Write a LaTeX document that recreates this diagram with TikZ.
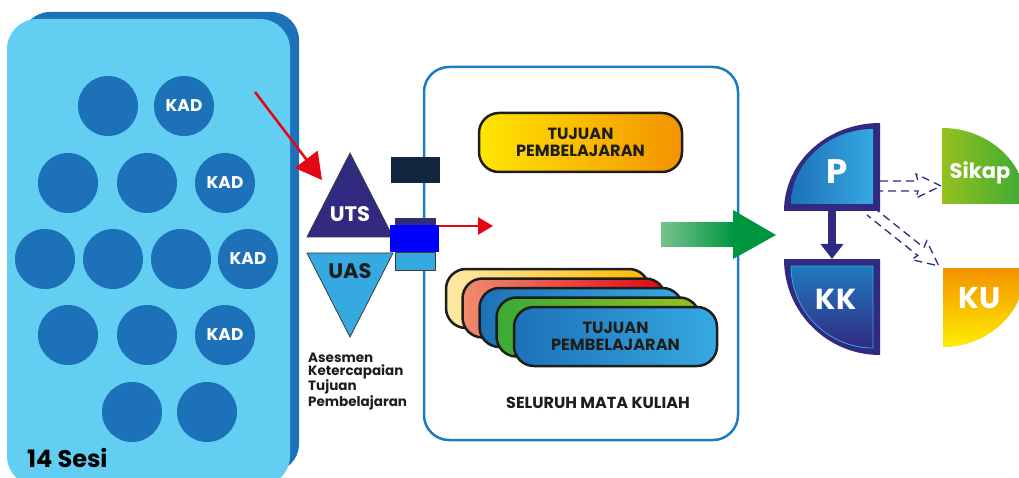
\documentclass[tikz,border=0pt]{standalone}
\usepackage{fontspec}
\setmainfont{Poppins}
\usetikzlibrary{arrows.meta,calc}

\definecolor{sky}{HTML}{61CEF2}
\definecolor{kadblue}{HTML}{1D71B8}
\definecolor{indigo}{HTML}{302A80}
\definecolor{cyanb}{HTML}{36A9E1}
\definecolor{navy}{HTML}{12263F}
\definecolor{pureblue}{HTML}{0000FF}
\definecolor{redar}{HTML}{E30613}
\definecolor{edgegray}{HTML}{3C3C3B}
\definecolor{ink}{HTML}{1D1D1B}
\definecolor{panelblue}{HTML}{1D7BC0}
\definecolor{yel}{HTML}{FFE600}
\definecolor{ora}{HTML}{F39200}
\definecolor{paleyel}{HTML}{FEE9A6}
\definecolor{gold}{HTML}{FBBA00}
\definecolor{salmon}{HTML}{F08C6E}
\definecolor{grn}{HTML}{3AAA35}
\definecolor{lime}{HTML}{95C11F}
\definecolor{arrowgreen}{HTML}{009640}
\definecolor{lightgreen}{HTML}{78C28F}
\definecolor{kuyel}{HTML}{FFED00}

\tikzset{
  sesi/.style={circle, fill=kadblue, minimum size=60pt, inner sep=0pt,
    text=white, font=\fontsize{17}{17}\selectfont\bfseries},
  card/.style={draw=ink, line width=2.5pt, rounded corners=20pt,
    minimum width=203pt, minimum height=59pt, inner sep=0pt, align=center,
    font=\fontsize{16.2}{16.5}\selectfont\bfseries, text=ink},
  smallbox/.style={draw=edgegray, line width=0.8pt},
  redarrow/.style={draw=redar, line width=2.5pt},
  dasharrow/.style={draw=indigo, line width=1.3pt, dash pattern=on 8pt off 5pt},
  whitelabel/.style={text=white, inner sep=0pt, font=\bfseries},
}

\begin{document}
\begin{tikzpicture}[x=1pt,y=-1pt]
\useasboundingbox (0,0) rectangle (1019,478);

% ---- session panel ----
\fill[kadblue, rounded corners=28pt] (22,12) rectangle (299,472);
\fill[sky, rounded corners=30pt] (7,19) rectangle (290,486);

\node[sesi] (s1) at (108,106) {};
\node[sesi] (s2) at (184,106) {KAD};
\node[sesi] (s3) at (68,183) {};
\node[sesi] (s4) at (147,183) {};
\node[sesi] (s5) at (225,183) {KAD};
\node[sesi] (s6) at (45,259) {};
\node[sesi] (s7) at (113,259) {};
\node[sesi] (s8) at (181,259) {};
\node[sesi] (s9) at (248,259) {KAD};
\node[sesi] (s10) at (68,335) {};
\node[sesi] (s11) at (147,335) {};
\node[sesi] (s12) at (225,335) {KAD};
\node[sesi] (s13) at (132,412) {};
\node[sesi] (s14) at (207,412) {};
\node[anchor=base west, inner sep=0pt, text=black,
  font=\fontsize{24}{24}\selectfont\bfseries] (sesi) at (27,467) {14 Sesi};

% ---- course panel ----
\draw[panelblue, line width=2.5pt, rounded corners=25pt] (424,67) rectangle (738,440);

% ---- assessment triangles ----
\draw[smallbox, fill=indigo] (307,237) -- (350,153) -- (393,237) -- cycle;
\draw[smallbox, fill=cyanb] (307,253) -- (393,253) -- (350,337) -- cycle;
\node[whitelabel, font=\fontsize{21}{21}\selectfont\bfseries] (uts) at (350,214) {UTS};
\node[whitelabel, text=ink, font=\fontsize{21}{21}\selectfont\bfseries] (uas) at (350,271) {UAS};
\node[anchor=north west, align=left, inner sep=0pt, text=ink,
  font=\fontsize{13.5}{12.8}\selectfont\bfseries] (ases) at (308,353)
  {Asesmen\\Ketercapaian\\Tujuan\\Pembelajaran};

% ---- small blocks ----
\fill[navy] (391,157) rectangle (440,183);
\draw[smallbox, fill=indigo] (395,218) rectangle (435,232);
\draw[smallbox, fill=cyanb] (395,252) rectangle (435,270);
\fill[pureblue] (390,225) rectangle (439,252);
\coordinate (bb) at (439,226);

% ---- red arrows ----
\coordinate (r1s) at (255,92);
\coordinate (r1e) at (322,180);
\draw[redarrow, -{Triangle[length=26pt,width=28pt]}] (r1s) -- (r1e);
\coordinate (r2e) at (493,226);
\draw[redarrow, -{Triangle[length=15pt,width=17pt]}] (bb) -- (r2e);

% ---- learning outcome cards ----
\node[card, left color=yel, right color=ora] (tp) at (580.5,142.5) {TUJUAN\\PEMBELAJARAN};
\node[card, left color=paleyel, right color=gold] (k1) at (547.5,298.5) {};
\node[card, left color=salmon, right color=redar] (k2) at (564,308) {};
\node[card, left color=kadblue, right color=cyanb] (k3) at (581,317.5) {};
\node[card, left color=grn, right color=lime] (k4) at (598,327) {};
\node[card, left color=kadblue, right color=cyanb] (k5) at (615.5,336.5) {TUJUAN\\PEMBELAJARAN};
\node[inner sep=0pt, text=ink, font=\fontsize{16}{16}\selectfont\bfseries] (smk) at (598,403) {SELURUH MATA KULIAH};

% ---- green arrow ----
\shade[left color=lightgreen, right color=arrowgreen] (661,223) rectangle (734,247);
\fill[arrowgreen] (733,210) -- (776,235) -- (733,259) -- cycle;

% ---- P ----
\fill[indigo] (784,211) .. controls (784,162.4) and (827,123) .. (880,123) -- (880,211) -- cycle;
\shade[left color=kadblue, right color=cyanb] (791,204) .. controls (791,163.5) and (828,129) .. (873,129) -- (873,204) -- cycle;
\node[whitelabel, font=\fontsize{34}{34}\selectfont\bfseries] (p) at (837,172) {P};

% ---- KK ----
\fill[indigo] (784,259) -- (880,259) -- (880,355) .. controls (827,355) and (784,312) .. (784,259) -- cycle;
\shade[top color=kadblue!85!cyanb, bottom color=indigo, draw=cyanb, line width=0.8pt]
  (791,266) -- (873,266) -- (873,348) .. controls (828,348) and (791,311) .. (791,266) -- cycle;
\node[whitelabel, font=\fontsize{29}{29}\selectfont\bfseries] (kk) at (836,299) {KK};

\coordinate (pb) at (832,211);
\coordinate (kt) at (832,259);
\draw[indigo, line width=8pt, -{Triangle[length=15pt,width=22pt]}] (pb) -- (kt);

% ---- Sikap ----
\shade[left color=lime, right color=grn] (942,128) -- (942,204) -- (1026,204) .. controls (1026,162) and (988,128) .. (942,128) -- cycle;
\node[whitelabel, font=\fontsize{21}{21}\selectfont\bfseries] (sikap) at (980,173) {Sikap};

% ---- KU ----
\shade[top color=ora, bottom color=kuyel] (943,268) -- (1026,268) .. controls (1026,311) and (989,347) .. (943,347) -- cycle;
\node[whitelabel, font=\fontsize{30}{30}\selectfont\bfseries] (ku) at (980,298) {KU};

% ---- dashed hollow arrows ----
\begin{scope}[shift={(880,186)}]
  \draw[dasharrow] (0,-5) -- (38,-5) -- (36,-12) -- (61,0) -- (36,12) -- (38,5) -- (0,5);
\end{scope}
\begin{scope}[shift={(870,211)}, rotate=-38.6]
  \draw[dasharrow] (0,-5) -- (65,-5) -- (63,-12) -- (88,0) -- (63,12) -- (65,5) -- (0,5);
\end{scope}
\end{tikzpicture}
\end{document}
